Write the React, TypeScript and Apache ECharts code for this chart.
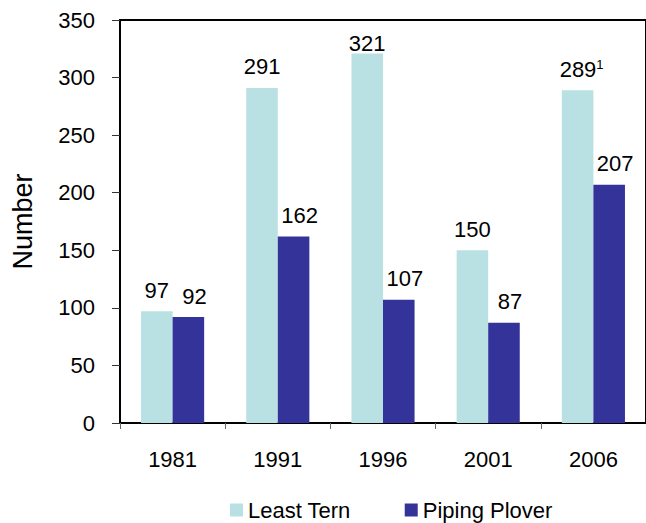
import React, { useEffect, useRef } from "react";
import * as echarts from "echarts";

const years = ["1981", "1991", "1996", "2001", "2006"];
const leastTern = [97, 291, 321, 150, 289];
const pipingPlover = [92, 162, 107, 87, 207];
const seriesNames = ["Least Tern", "Piping Plover"];
const yAxisTitle = "Number";
const footnoteMark = "1";

const FONT = "'Liberation Sans', Arial, sans-serif";
const FS = 22;

export default function App() {
  const ref = useRef<HTMLDivElement>(null);
  useEffect(() => {
    if (!ref.current) return;
    const chart = echarts.init(ref.current, null, { renderer: "svg" });
    const ternData = leastTern.map((v, i) => {
      const item: any = { value: v };
      if (i === 2) item.label = { offset: [0, 11] };
      if (i === 4)
        item.label = {
          formatter: `{v|${v}}{sup|${footnoteMark}}`,
          offset: [4, 0],
        };
      return item;
    });
    chart.setOption({
      animation: false,
      textStyle: { fontFamily: FONT },
      grid: {
        left: 120,
        top: 20,
        width: 527,
        height: 403,
        show: true,
        borderColor: "#000",
        borderWidth: 2,
        containLabel: false,
      },
      legend: {
        left: 225,
        top: 494,
        padding: 5,
        itemWidth: 13,
        itemHeight: 13,
        itemGap: 54,
        icon: "rect",
        textStyle: { fontFamily: FONT, fontSize: FS, color: "#000", lineHeight: 22 },
        data: seriesNames,
      },
      xAxis: {
        type: "category",
        data: years,
        axisLine: { lineStyle: { color: "#000", width: 2 } },
        axisTick: { show: true, length: 6, lineStyle: { color: "#666", width: 1 } },
        axisLabel: { fontFamily: FONT, fontSize: FS, color: "#000", margin: 25 },
      },
      yAxis: {
        type: "value",
        min: 0,
        max: 350,
        interval: 50,
        name: yAxisTitle,
        nameLocation: "middle",
        nameGap: 84,
        nameTextStyle: { fontFamily: FONT, fontSize: 27, color: "#000" },
        splitLine: { show: false },
        axisLine: { show: true, lineStyle: { color: "#000", width: 2 } },
        axisTick: { show: true, length: 8, lineStyle: { color: "#333", width: 1 } },
        axisLabel: { fontFamily: FONT, fontSize: FS, color: "#000", margin: 25 },
      },
      series: [
        {
          name: seriesNames[0],
          type: "bar",
          data: ternData,
          barGap: "0%",
          barCategoryGap: "40%",
          itemStyle: { color: "#B9E0E3" },
          label: {
            show: true,
            position: "top",
            distance: 10,
            fontFamily: FONT,
            fontSize: FS,
            color: "#000",
            rich: {
              v: { fontFamily: FONT, fontSize: FS, color: "#000" },
              sup: {
                fontFamily: FONT,
                fontSize: 13,
                color: "#000",
                padding: [0, 0, 9, 0],
              },
            },
          },
        },
        {
          name: seriesNames[1],
          type: "bar",
          data: pipingPlover,
          barGap: "0%",
          barCategoryGap: "40%",
          itemStyle: { color: "#333399" },
          label: {
            show: true,
            position: "top",
            distance: 10,
            offset: [6, 0],
            fontFamily: FONT,
            fontSize: FS,
            color: "#000",
          },
        },
      ],
    });
    return () => chart.dispose();
  }, []);
  return (
    <div
      ref={ref}
      style={{ position: "fixed", left: 0, top: 0, width: 646, height: 523, background: "#fff" }}
    />
  );
}
